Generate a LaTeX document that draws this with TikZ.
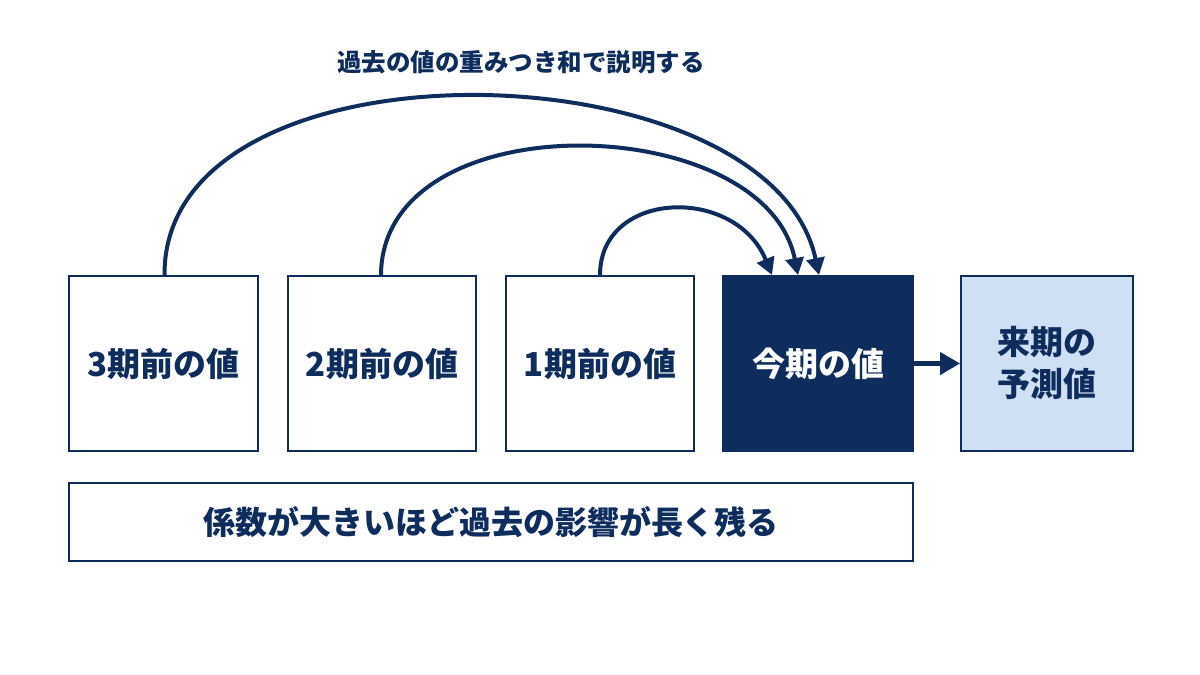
\documentclass[tikz,border=0pt]{standalone}
\usepackage{fontspec}
\setmainfont{Noto Sans CJK JP}
\usetikzlibrary{arrows.meta}
\definecolor{navy}{HTML}{0F2D5C}
\definecolor{lblue}{HTML}{CFE0F5}
\begin{document}
\begin{tikzpicture}[x=1pt,y=-1pt,
  box/.style={draw=navy,line width=2pt,minimum width=#1,minimum height=175pt,anchor=north west,inner sep=0pt,font=\fontsize{33}{42}\selectfont\bfseries,text=navy,align=center},
  arc/.style={draw=navy,line width=4pt,-{Triangle[length=17pt,width=18pt]}}]
\useasboundingbox (0,0) rectangle (1200,675);
\fill[white] (0,0) rectangle (1200,675);
\node[box=189pt] (b3) at (68,275) {3期前の値};
\node[box=188pt] (b2) at (287,275) {2期前の値};
\node[box=188pt] (b1) at (505,275) {1期前の値};
\node[box=190pt,fill=navy,text=white] (b0) at (722,275) {今期の値};
\node[box=172pt,fill=lblue] (bn) at (960,275) {来期の\\予測値};
\node[box=844pt,minimum height=78pt,font=\fontsize{32}{38}\selectfont\bfseries] (bot) at (68,482) {係数が大きいほど過去の影響が長く残る};
\node[font=\fontsize{24.5}{28}\selectfont\bfseries,text=navy] (lab) at (521,62) {過去の値の重みつき和で説明する};
\coordinate (s3) at ([xshift=1pt]b3.north);
\coordinate (s2) at ([xshift=-1pt]b2.north);
\coordinate (s1) at ([xshift=0pt]b1.north);
\coordinate (e3) at ([xshift=1pt]b0.north);
\coordinate (e2) at ([xshift=-20pt]b0.north);
\coordinate (e1) at ([xshift=-46pt]b0.north);
\draw[arc] (s3) .. controls (163,30) and (770,45) .. (e3);
\draw[arc] (s2) .. controls (382,100) and (765,110) .. (e2);
\draw[arc] (s1) .. controls (600,190) and (735,185) .. (e1);
\draw[arc,line width=4.5pt,-{Triangle[length=20pt,width=22pt]}] (b0.east) -- (bn.west);
\end{tikzpicture}
\end{document}
